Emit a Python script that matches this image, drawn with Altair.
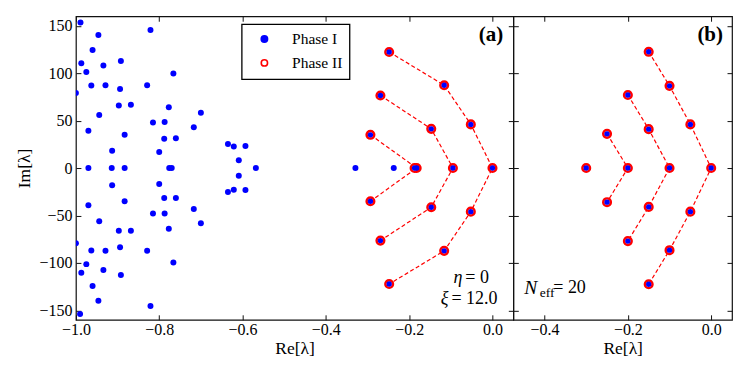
import altair as alt
import pandas as pd

FONT = "Liberation Serif, 'Times New Roman', Times, serif"

# ---------------- Panel (a): Phase I eigenvalues (blue dots) ----------------
a1_re = [-0.989, -0.821, -0.946, -0.960, -0.987, -0.892, -0.934, -0.975, -0.766,
         -0.963, -0.929, -0.829, -0.894, -1.000, -0.897, -0.868, -0.777, -0.944,
         -0.815, -0.787, -0.970, -0.883, -0.788, -0.760, -0.913, -0.800, -0.700,
         -0.717, -0.635, -0.621, -0.593, -0.609,
         -0.970, -0.914, -0.883, -0.776, -0.770, -0.568, -0.329, -0.237,
         -0.990, -0.821, -0.946, -0.960, -0.987, -0.892, -0.934, -0.975, -0.766,
         -0.963, -0.929, -0.829, -0.894, -1.000, -0.897, -0.868, -0.777, -0.944,
         -0.815, -0.787, -0.970, -0.883, -0.788, -0.760, -0.913, -0.800, -0.700,
         -0.717, -0.635, -0.621, -0.593, -0.609]
a1_im = [153.5, 145.4, 140.2, 124.4, 110.4, 112.8, 108.0, 101.3, 99.6,
         87.0, 87.3, 87.3, 83.4, 79.2, 65.9, 66.6, 64.1, 56.0,
         48.0, 48.4, 39.3, 35.0, 30.8, 31.5, 18.2, 16.8, 58.2,
         43.1, 25.2, 22.8, 23.1, 8.1,
         0.0, 0.0, 0.0, 0.0, 0.0, 0.0, 0.0, 0.0,
         -153.9, -145.4, -140.0, -124.4, -110.4, -112.8, -107.6, -101.3, -99.6,
         -87.0, -87.3, -87.3, -83.4, -79.2, -66.2, -66.2, -64.1, -56.0,
         -48.0, -48.0, -39.3, -35.0, -31.5, -31.5, -18.2, -16.8, -58.2,
         -43.1, -25.2, -22.8, -23.1, -8.1]

# ---------------- Panel (a): Phase II eigenvalues (red rings + dashed branches) ----
a2_re = [-0.248, -0.116, -0.052, 0.000, -0.052, -0.116, -0.248,
         -0.269, -0.147, -0.095, -0.147, -0.269,
         -0.293, -0.182, -0.293,
         -0.187]
a2_im = [122.3, 87.3, 46.0, 0.0, -46.0, -87.3, -122.3,
         76.5, 41.3, 0.0, -41.3, -76.5,
         35.0, 0.0, -35.0,
         0.0]
a2_branch = ["A1", "A1", "A1", "A1", "A1", "A1", "A1",
             "A2", "A2", "A2", "A2", "A2",
             "A3", "A3", "A3",
             "A4"]

# ---------------- Panel (b): Phase II eigenvalues ----------------
b2_re = [-0.150, -0.100, -0.050, 0.000, -0.050, -0.100, -0.150,
         -0.200, -0.150, -0.100, -0.150, -0.200,
         -0.250, -0.200, -0.250,
         -0.300]
b2_im = [122.5, 86.6, 46.0, 0.0, -46.0, -86.6, -122.5,
         77.0, 41.0, 0.0, -41.0, -77.0,
         36.0, 0.0, -36.0,
         0.0]
b2_branch = ["B1", "B1", "B1", "B1", "B1", "B1", "B1",
             "B2", "B2", "B2", "B2", "B2",
             "B3", "B3", "B3",
             "B4"]

# tick values
x_ticks_a = [-1.0, -0.8, -0.6, -0.4, -0.2, 0.0]
x_ticks_b = [-0.4, -0.2, 0.0]
y_ticks = [-150, -100, -50, 0, 50, 100, 150]

series_names = ["Phase I", "Phase II"]
series_fill = ["blue", "white"]
series_stroke = ["blue", "red"]

# annotation texts
ann_a = "(a)"
ann_b = "(b)"
ann_eta = ["η", "= 0"]
ann_xi = ["ξ", "= 12.0"]
ann_n = ["N", "eff", "= 20"]

# ---------------- tables ----------------
ph1_a = pd.DataFrame({"re": a1_re, "im": a1_im, "phase": "Phase I"})
ph2_a = pd.DataFrame({"re": a2_re, "im": a2_im, "branch": a2_branch, "phase": "Phase II"})
ph2_a["k"] = range(len(ph2_a))
ph2_b = pd.DataFrame({"re": b2_re, "im": b2_im, "branch": b2_branch, "phase": "Phase II"})
ph2_b["k"] = range(len(ph2_b))

W_A, W_B, H = 438, 219, 304
TICK = 5
DOT = 36      # Phase I dot area
RING = 58     # Phase II ring area
CENTER = 29   # blue centre shown inside the rings

y_scale = alt.Scale(domain=[-160, 160], nice=False, zero=False)
x_scale_a = alt.Scale(domain=[-1.0, 0.05], nice=False, zero=False)
x_scale_b = alt.Scale(domain=[-0.475, 0.05], nice=False, zero=False)

fill_scale = alt.Scale(domain=series_names, range=series_fill)
stroke_scale = alt.Scale(domain=series_names, range=series_stroke)
legend = alt.Legend(
    title=None, orient="none", legendX=166, legendY=8, direction="vertical",
    labelFont=FONT, labelFontSize=15.5, labelColor="black",
    symbolType="circle", symbolSize=40, symbolStrokeWidth=1.6,
    strokeColor="black", fillColor="white", padding=7, rowPadding=7,
    labelOffset=20, symbolOffset=8,
)


def x_bottom(values, scale, title):
    return alt.X("re:Q", scale=scale, axis=alt.Axis(
        orient="bottom", values=values, format=".1f", title=title, labelFlush=False,
        offset=-TICK, tickSize=TICK, labelPadding=1.5, titlePadding=2, domain=False))


def x_top(values, scale):
    return alt.X("re:Q", scale=scale, axis=alt.Axis(
        orient="top", values=values, labels=False, title=None,
        offset=-TICK, tickSize=TICK, domain=False))


def y_left(labels):
    if labels:
        ax = alt.Axis(orient="left", values=y_ticks, format="d", title="Im[λ]", labelFlush=False,
                      offset=-TICK, tickSize=TICK, labelPadding=4, titlePadding=5, domain=False)
    else:
        ax = alt.Axis(orient="left", values=y_ticks, labels=False, title=None,
                      offset=-TICK, tickSize=TICK, domain=False)
    return alt.Y("im:Q", scale=y_scale, axis=ax)


def y_right():
    return alt.Y("im:Q", scale=y_scale, axis=alt.Axis(
        orient="right", values=y_ticks, labels=False, title=None,
        offset=-TICK, tickSize=TICK, domain=False))


def no_x(scale):
    return alt.X("re:Q", scale=scale, axis=None)


def no_y():
    return alt.Y("im:Q", scale=y_scale, axis=None)


def branch_lines(df, scale):
    return alt.Chart(df).mark_line(
        color="red", strokeWidth=1.2, strokeDash=[4, 2.5], clip=True
    ).encode(x=no_x(scale), y=no_y(), detail="branch:N", order="k:Q")


def centers(df, scale):
    return alt.Chart(df).mark_circle(size=CENTER, opacity=1, color="blue", clip=True).encode(
        x=no_x(scale), y=no_y())


def text_layer(txt, x, y, size, align="left", style="normal", weight="normal"):
    return alt.Chart(pd.DataFrame({"t": [txt]})).mark_text(
        font=FONT, fontSize=size, align=align, baseline="middle",
        fontStyle=style, fontWeight=weight, color="black"
    ).encode(x=alt.value(x), y=alt.value(y), text="t:N")


# ---------------- Panel (a) ----------------
dots_layer_a = alt.Chart(ph1_a).mark_circle(size=DOT, opacity=1, strokeWidth=0, clip=True).encode(
    x=x_bottom(x_ticks_a, x_scale_a, "Re[λ]"),
    y=y_left(True),
    fill=alt.Fill("phase:N", scale=fill_scale, legend=legend),
    stroke=alt.Stroke("phase:N", scale=stroke_scale, legend=legend),
)
rings_a = alt.Chart(ph2_a).mark_circle(size=RING, opacity=1, strokeWidth=2.5, clip=True).encode(
    x=x_top(x_ticks_a, x_scale_a),
    y=y_right(),
    fill=alt.Fill("phase:N", scale=fill_scale, legend=legend),
    stroke=alt.Stroke("phase:N", scale=stroke_scale, legend=legend),
)

panel_a = alt.layer(
    branch_lines(ph2_a, x_scale_a), dots_layer_a, rings_a, centers(ph2_a, x_scale_a),
    text_layer(ann_a, 428, 19, 21, align="right", weight="bold"),
    text_layer(ann_eta[0], 387, 262, 18, align="right", style="italic"),
    text_layer(ann_eta[1], 390, 262, 18),
    text_layer(ann_xi[0], 373, 283, 18, align="right", style="italic"),
    text_layer(ann_xi[1], 376, 283, 18),
).resolve_axis(x="independent", y="independent").properties(width=W_A, height=H)

# ---------------- Panel (b) ----------------
rings_b = alt.Chart(ph2_b).mark_circle(
    size=RING, opacity=1, strokeWidth=2.5, fill="white", stroke="red", clip=True
).encode(
    x=x_bottom(x_ticks_b, x_scale_b, "Re[λ]"),
    y=y_left(False),
)
frame_b = alt.Chart(ph2_b).mark_circle(size=RING, opacity=0, clip=True).encode(
    x=x_top(x_ticks_b, x_scale_b),
    y=y_right(),
)

panel_b = alt.layer(
    branch_lines(ph2_b, x_scale_b), rings_b, frame_b, centers(ph2_b, x_scale_b),
    text_layer(ann_b, 210, 19, 21, align="right", weight="bold"),
    text_layer(ann_n[0], 11, 272, 19.5, style="italic"),
    text_layer(ann_n[1], 26.5, 277, 13.5),
    text_layer(ann_n[2], 40, 272, 18),
).resolve_axis(x="independent", y="independent").properties(width=W_B, height=H)

chart = alt.hconcat(panel_a, panel_b, spacing=0, bounds="flush").configure_view(
    stroke="#111", strokeWidth=1.2
).configure_axis(
    labelFont=FONT, labelFontSize=16, labelColor="black",
    titleFont=FONT, titleFontSize=17.5, titleFontWeight="normal", titleColor="black",
    tickColor="#111", tickWidth=1, grid=False,
).configure_legend(
    strokeWidth=1.3,
).properties(
    padding={"left": 7, "top": 6, "right": 5, "bottom": 5},
    background="white",
)

chart.save("out.html", embed_options={"renderer": "svg", "actions": False})
